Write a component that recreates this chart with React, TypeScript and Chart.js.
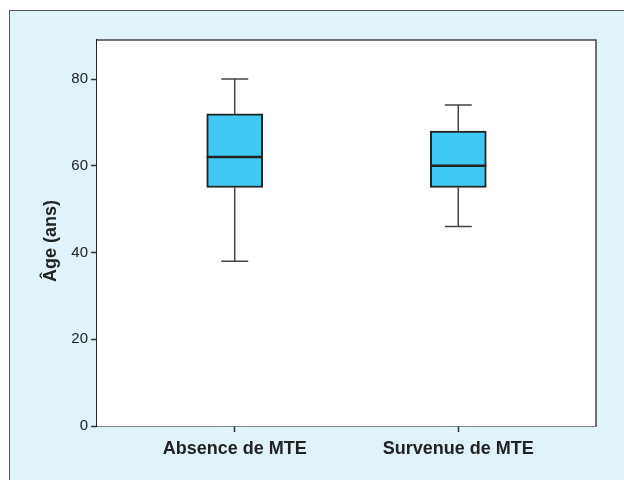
import React, { useEffect, useRef } from "react";
import { Chart, registerables } from "chart.js";

Chart.register(...registerables);

// Age distribution per group (box plot summary)
const groups = ["Absence de MTE", "Survenue de MTE"];
const whiskerLow = [38, 46];
const quartile1 = [55, 55];
const medians = [62, 60];
const quartile3 = [72, 68];
const whiskerHigh = [80, 74];
const yTickValues = [0, 20, 40, 60, 80];
const yTitle = "Âge (ans)";

const FONT = '"Liberation Sans", Arial, Helvetica, sans-serif';
const INK = "#222222";

// Paints the white plot area, the frame, whiskers, median lines and the y title.
const boxPlotDecor = {
  id: "boxPlotDecor",
  beforeDatasetsDraw(chart: any) {
    const { ctx, chartArea: a, scales } = chart;
    ctx.save();
    ctx.fillStyle = "#ffffff";
    ctx.fillRect(a.left, a.top, a.right - a.left, a.bottom - a.top);
    const xs = scales.x;
    const ys = scales.y;
    ctx.strokeStyle = "#444444";
    ctx.lineWidth = 1.5;
    groups.forEach((_, i) => {
      const cx = xs.getPixelForValue(i + 1);
      const capHalf = 13.5;
      const yLo = ys.getPixelForValue(whiskerLow[i]);
      const yHi = ys.getPixelForValue(whiskerHigh[i]);
      const yQ1 = ys.getPixelForValue(quartile1[i]);
      const yQ3 = ys.getPixelForValue(quartile3[i]);
      ctx.beginPath();
      ctx.moveTo(cx, yQ3);
      ctx.lineTo(cx, yHi);
      ctx.moveTo(cx - capHalf, yHi);
      ctx.lineTo(cx + capHalf, yHi);
      ctx.moveTo(cx, yQ1);
      ctx.lineTo(cx, yLo);
      ctx.moveTo(cx - capHalf, yLo);
      ctx.lineTo(cx + capHalf, yLo);
      ctx.stroke();
    });
    ctx.restore();
  },
  afterDatasetsDraw(chart: any) {
    const { ctx, chartArea: a, scales } = chart;
    const xs = scales.x;
    const ys = scales.y;
    ctx.save();
    ctx.strokeStyle = INK;
    ctx.lineWidth = 2.5;
    groups.forEach((_, i) => {
      const cx = xs.getPixelForValue(i + 1);
      const ym = ys.getPixelForValue(medians[i]);
      ctx.beginPath();
      ctx.moveTo(cx - 28, ym);
      ctx.lineTo(cx + 28, ym);
      ctx.stroke();
    });
    ctx.strokeStyle = "#444444";
    ctx.lineWidth = 1.5;
    ctx.beginPath();
    ctx.moveTo(a.left, a.top);
    ctx.lineTo(a.right, a.top);
    ctx.lineTo(a.right, a.bottom);
    ctx.stroke();
    ctx.restore();
  },
  afterDraw(chart: any) {
    const { ctx, chartArea: a } = chart;
    ctx.save();
    ctx.translate(51, (a.top + a.bottom) / 2 + 8);
    ctx.rotate(-Math.PI / 2);
    ctx.font = `bold 18px ${FONT}`;
    ctx.fillStyle = INK;
    ctx.textAlign = "center";
    ctx.textBaseline = "middle";
    ctx.fillText(yTitle, 0, 0);
    ctx.restore();
  },
};

export default function App() {
  const canvasRef = useRef<HTMLCanvasElement | null>(null);

  useEffect(() => {
    document.body.style.margin = "0";
    const canvas = canvasRef.current;
    if (!canvas) return;
    const chart = new Chart(canvas, {
      type: "bar",
      data: {
        datasets: [
          {
            data: groups.map((_, i) => ({ x: i + 1, y: [quartile1[i], quartile3[i]] })) as any,
            backgroundColor: "#41c8f3",
            borderColor: INK,
            borderWidth: 2,
            borderSkipped: false,
            barThickness: 56,
          },
        ],
      },
      options: {
        responsive: false,
        animation: false,
        layout: { padding: { left: 0, top: 40, right: 28, bottom: 0 } },
        plugins: {
          legend: { display: false },
          tooltip: { enabled: false },
        },
        scales: {
          x: {
            type: "linear",
            offset: false,
            min: 0.384,
            max: 2.616,
            afterBuildTicks: (scale: any) => {
              scale.ticks = groups.map((_, i) => ({ value: i + 1 }));
            },
            afterFit: (scale: any) => {
              scale.height = 54;
            },
            ticks: {
              callback: (v: any) => groups[Number(v) - 1] ?? "",
              font: { family: FONT, size: 18, weight: "bold" },
              color: INK,
              padding: 6,
              maxRotation: 0,
              autoSkip: false,
            },
            grid: {
              offset: false,
              drawOnChartArea: false,
              drawTicks: true,
              tickLength: 6,
              tickColor: "#333333",
              tickWidth: 1.5,
            },
            border: { display: true, color: INK, width: 1.5 },
          },
          y: {
            type: "linear",
            min: 0,
            max: 89,
            afterBuildTicks: (scale: any) => {
              scale.ticks = yTickValues.map((v) => ({ value: v }));
            },
            afterFit: (scale: any) => {
              scale.width = 97;
            },
            ticks: {
              font: { family: FONT, size: 15 },
              color: INK,
              padding: 3,
            },
            grid: {
              drawOnChartArea: false,
              drawTicks: true,
              tickLength: 6,
              tickColor: "#333333",
              tickWidth: 1.5,
            },
            border: { display: true, color: INK, width: 1.5 },
          },
        },
      },
      plugins: [boxPlotDecor],
    });
    return () => chart.destroy();
  }, []);

  return (
    <div
      style={{
        position: "relative",
        width: 624,
        height: 480,
        overflow: "hidden",
        background: "#ffffff",
      }}
    >
      <div
        style={{
          position: "absolute",
          left: 9,
          top: 10,
          width: 700,
          height: 600,
          background: "#e0f2fa",
          border: "1.5px solid #555555",
        }}
      />
      <canvas
        ref={canvasRef}
        width={624}
        height={480}
        style={{ position: "absolute", left: 0, top: 0, display: "block" }}
      />
    </div>
  );
}
